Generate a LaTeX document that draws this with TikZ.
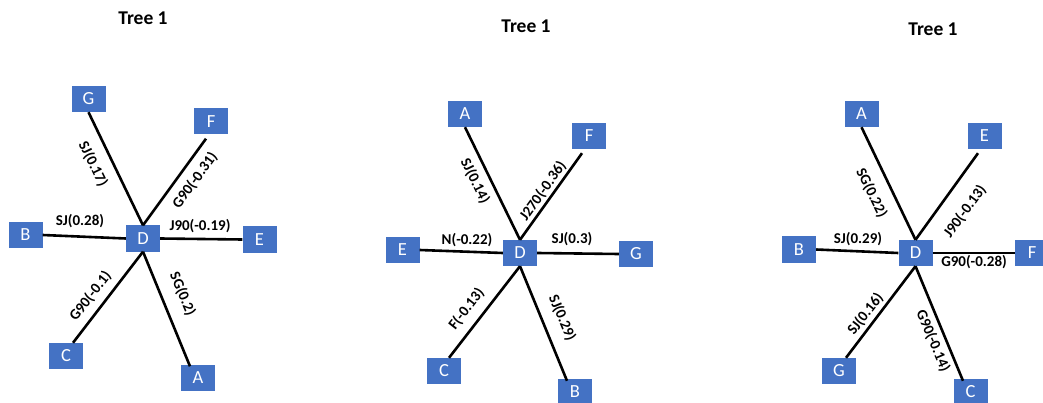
\documentclass[tikz,border=0pt]{standalone}
\usepackage{fontspec}
\setmainfont{Carlito}
\definecolor{boxblue}{HTML}{4472C4}
\begin{document}
\begin{tikzpicture}[x=1pt,y=-1pt,
  leaf/.style={fill=boxblue,draw=none,text=white,minimum width=34pt,minimum height=26pt,inner sep=0pt,font=\fontsize{18.5}{18.5}\selectfont},
  edge/.style={line width=2.6pt,black},
  elabel/.style={inner sep=0pt,font=\fontsize{15}{15}\selectfont\bfseries},
  ttl/.style={font=\fontsize{19.5}{19.5}\selectfont\bfseries}]
\useasboundingbox[fill=white] (0,0) rectangle (1043,403);
% ---------- Tree 1 (left)
\node[ttl] (t1) at (143,18) {Tree 1};
\node[leaf] (aG) at (88.5,99) {G};
\node[leaf] (aF) at (211,121.5) {F};
\node[leaf] (aD) at (143,238.5) {D};
\node[leaf] (aB) at (25.5,235) {B};
\node[leaf] (aE) at (259.5,239.5) {E};
\node[leaf] (aC) at (66,356) {C};
\node[leaf] (aA) at (198,377.5) {A};
\draw[edge] (aD.north) -- (aG.south);
\draw[edge] (aD.north) -- ([xshift=-5pt,yshift=-4pt]aF.south);
\draw[edge] (aB.east) -- (aD.west);
\draw[edge] (aD.east) -- (aE.west);
\draw[edge] (aD.south) -- ([xshift=7pt]aC.north);
\draw[edge] (aD.south) -- ([xshift=-8pt,yshift=-2pt]aA.north);
\node[elabel,rotate=-64] (la1) at (93,164) {SJ(0.17)};
\node[elabel,rotate=54] (la2) at (195,180.5) {G90(-0.31)};
\node[elabel] (la3) at (80,221) {SJ(0.28)};
\node[elabel] (la4) at (200,226) {J90(-0.19)};
\node[elabel,rotate=52] (la5) at (90.5,296) {G90(-0.1)};
\node[elabel,rotate=-67] (la6) at (182.5,294) {SG(0.2)};
% ---------- Tree 2 (middle)
\node[ttl] (t2) at (526,26) {Tree 1};
\node[leaf] (bA) at (465,114) {A};
\node[leaf] (bF) at (589,136) {F};
\node[leaf] (bD) at (520,253) {D};
\node[leaf] (bE) at (402.5,250) {E};
\node[leaf] (bG) at (636,254) {G};
\node[leaf] (bC) at (444,371) {C};
\node[leaf] (bB) at (575,392) {B};
\draw[edge] (bD.north) -- (bA.south);
\draw[edge] (bD.north) -- ([xshift=-7pt,yshift=-4pt]bF.south);
\draw[edge] (bE.east) -- (bD.west);
\draw[edge] (bD.east) -- (bG.west);
\draw[edge] (bD.south) -- ([xshift=5pt]bC.north);
\draw[edge] (bD.south) -- ([xshift=-8pt,yshift=-2pt]bB.north);
\node[elabel,rotate=-64] (lb1) at (475,181) {SJ(0.14)};
\node[elabel,rotate=54.5] (lb2) at (543,191) {J270(-0.36)};
\node[elabel] (lb3) at (467,240) {N(-0.22)};
\node[elabel] (lb4) at (572,239) {SJ(0.3)};
\node[elabel,rotate=52] (lb5) at (466.5,309) {F(-0.13)};
\node[elabel,rotate=-67] (lb6) at (562,318) {SJ(0.29)};
% ---------- Tree 3 (right)
\node[ttl] (t3) at (933,29) {Tree 1};
\node[leaf] (cA) at (861.5,114) {A};
\node[leaf] (cE) at (984.5,136) {E};
\node[leaf] (cD) at (915.5,253) {D};
\node[leaf] (cB) at (799,249.5) {B};
\node[leaf] (cF) at (1032,253) {F};
\node[leaf] (cG) at (839,371) {G};
\node[leaf] (cC) at (970.5,392) {C};
\draw[edge] (cD.north) -- (cA.south);
\draw[edge] (cD.north) -- ([xshift=-6.5pt,yshift=-4pt]cE.south);
\draw[edge] (cB.east) -- (cD.west);
\draw[edge] (cD.east) -- (cF.west);
\draw[edge] (cD.south) -- ([xshift=7pt]cG.north);
\draw[edge] (cD.south) -- ([xshift=-7.5pt,yshift=-2pt]cC.north);
\node[elabel,rotate=-64] (lc1) at (871.5,193) {SG(0.22)};
\node[elabel,rotate=54] (lc2) at (965,211.5) {J90(-0.13)};
\node[elabel] (lc3) at (858,239) {SJ(0.29)};
\node[elabel] (lc4) at (974,262) {G90(-0.28)};
\node[elabel,rotate=52] (lc5) at (865.5,314) {SJ(0.16)};
\node[elabel,rotate=-67] (lc6) at (933,341) {G90(-0.14)};
\end{tikzpicture}
\end{document}
